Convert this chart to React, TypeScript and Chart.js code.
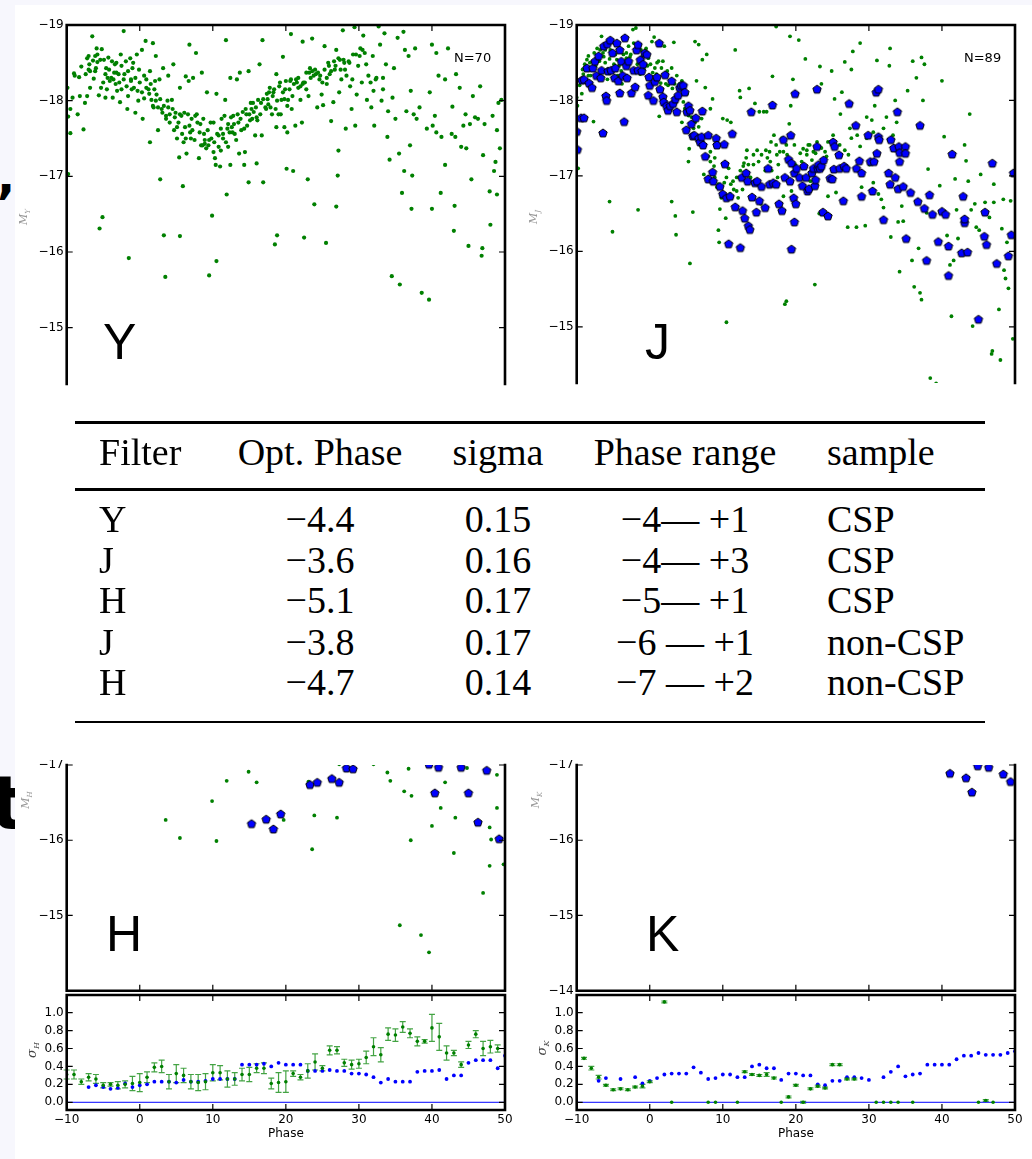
import React, { useEffect, useRef } from 'react';
import { Chart, registerables } from 'chart.js';

Chart.register(...registerables);

type Pt = [number, number];
type ErrPt = [number, number, number];

// ---------------- data ----------------
const PHASE_TICKS = [-10, 0, 10, 20, 30, 40, 50];
const MAG_TICKS_TOP = [-19, -18, -17, -16, -15];
const MAG_TICKS_H = [-17, -16, -15];
const MAG_TICKS_K = [-17, -16, -15, -14];
const MAG_FRAME_TICKS_BOTTOM = [-17, -16, -15, -14];
const SIGMA_TICKS = [0, 0.2, 0.4, 0.6, 0.8, 1.0];

const Y_GREEN: Pt[] = [
  [-9.9,-18.17],[-9.8,-17.79],[-9.8,-17.03],[-9.5,-17.57],[-9.2,-18.04],[-9.0,-18.36],[-8.5,-17.82],[-8.3,-18.31],[-8.0,-18.45],[-7.7,-17.62],[-7.5,-17.97],[-7.2,-18.06],[-7.0,-18.59],[-7.0,-18.41],[-6.8,-18.17],[-6.5,-18.85],[-6.4,-18.53],[-6.3,-18.29],[-6.1,-18.39],[-5.9,-18.69],[-5.8,-18.51],[-5.6,-18.07],[-5.5,-16.31],[-5.2,-18.68],[-5.1,-16.46],[-5.0,-18.24],[-4.7,-18.04],[-4.6,-18.43],[-4.4,-18.30],[-4.3,-18.57],[-4.1,-18.26],[-3.8,-18.52],[-3.7,-18.04],[-3.5,-18.37],[-3.3,-18.22],[-3.2,-18.50],[-2.9,-18.35],[-2.7,-17.98],[-2.6,-18.61],[-2.5,-18.15],[-2.2,-18.92],[-2.1,-18.35],[-1.9,-18.52],[-1.7,-17.89],[-1.6,-18.06],[-1.5,-15.92],[-1.3,-18.56],[-1.2,-18.26],[-1.0,-18.43],[-0.8,-18.17],[-0.6,-17.84],[-0.4,-18.61],[-0.2,-18.00],[0.0,-18.24],[0.3,-18.67],[0.4,-17.76],[0.6,-18.03],[0.8,-18.79],[0.9,-18.28],[1.2,-18.15],[1.4,-17.45],[1.4,-18.39],[1.6,-18.01],[1.8,-18.76],[1.9,-17.91],[2.1,-18.26],[2.2,-18.59],[2.3,-18.08],[2.5,-17.61],[2.7,-18.28],[2.8,-16.96],[3.0,-17.89],[3.2,-18.43],[3.3,-16.22],[3.5,-15.67],[3.6,-17.80],[3.8,-18.00],[3.9,-18.33],[4.1,-17.71],[4.4,-18.01],[4.6,-18.48],[4.7,-17.61],[4.9,-17.84],[5.1,-17.50],[5.3,-17.71],[5.4,-17.25],[5.5,-18.17],[5.5,-16.21],[5.7,-17.80],[5.9,-16.87],[6.0,-17.45],[6.2,-17.65],[6.3,-18.32],[6.4,-17.30],[6.7,-18.26],[6.8,-18.74],[6.9,-17.58],[7.1,-17.76],[7.3,-18.30],[7.5,-17.48],[7.7,-18.63],[7.8,-17.82],[8.1,-17.24],[8.3,-17.69],[8.5,-18.37],[8.6,-17.41],[8.8,-17.56],[8.9,-17.48],[9.2,-18.11],[9.4,-17.41],[9.5,-15.69],[9.7,-17.71],[9.9,-16.48],[10.1,-17.32],[10.3,-17.24],[10.4,-17.15],[10.5,-18.09],[10.5,-15.88],[10.8,-17.54],[11.0,-17.13],[11.1,-17.34],[11.2,-17.76],[11.4,-17.50],[11.7,-18.01],[11.8,-18.80],[11.9,-16.76],[12.0,-17.63],[12.1,-17.39],[12.4,-17.15],[12.4,-18.30],[12.6,-17.65],[12.8,-17.80],[13.0,-17.56],[13.3,-18.28],[13.5,-17.71],[13.6,-17.30],[13.7,-18.37],[13.9,-17.61],[14.3,-17.15],[14.4,-17.32],[14.6,-17.82],[14.9,-18.39],[14.9,-16.92],[15.1,-17.74],[15.3,-17.89],[15.5,-17.97],[15.8,-17.54],[16.0,-17.78],[16.0,-17.17],[16.2,-18.01],[16.4,-18.48],[16.7,-17.54],[16.8,-18.80],[16.9,-16.92],[17.2,-17.91],[17.4,-18.09],[17.6,-17.95],[17.8,-18.17],[18.1,-17.82],[18.3,-18.11],[18.5,-16.10],[18.7,-17.65],[18.7,-18.35],[18.8,-16.22],[19.0,-17.82],[19.2,-18.24],[19.4,-18.01],[19.6,-18.58],[19.8,-17.65],[19.9,-18.15],[20.1,-17.10],[20.2,-17.58],[20.3,-18.01],[20.6,-18.26],[20.7,-18.88],[20.8,-17.89],[21.0,-17.07],[21.3,-17.67],[21.4,-18.28],[21.7,-18.17],[22.0,-18.01],[22.2,-17.71],[22.3,-18.78],[22.4,-18.24],[22.5,-16.19],[22.8,-18.37],[23.0,-16.96],[23.1,-18.06],[23.3,-18.43],[23.6,-18.82],[23.8,-18.33],[23.9,-16.63],[24.0,-18.41],[24.3,-17.91],[24.6,-18.28],[24.9,-18.08],[25.1,-17.94],[25.3,-18.72],[25.5,-16.12],[25.6,-18.22],[25.8,-18.50],[26.0,-18.35],[26.2,-17.73],[26.5,-17.98],[26.7,-18.41],[26.9,-18.67],[26.9,-16.60],[27.1,-17.01],[27.2,-17.34],[27.3,-18.11],[27.4,-18.54],[27.6,-18.28],[27.8,-18.93],[28.0,-18.50],[28.2,-17.63],[28.6,-18.52],[28.8,-18.19],[29.0,-17.89],[29.2,-18.61],[29.4,-18.97],[29.5,-17.67],[29.7,-18.08],[29.9,-18.46],[30.2,-18.69],[30.4,-18.24],[30.6,-18.86],[30.8,-18.63],[31.1,-18.01],[31.3,-18.33],[31.7,-17.91],[31.9,-18.59],[32.1,-17.67],[32.3,-18.28],[32.7,-18.98],[32.9,-18.74],[33.1,-18.00],[33.3,-18.30],[33.5,-18.89],[33.7,-18.48],[33.9,-17.52],[34.0,-17.86],[34.2,-17.22],[34.5,-15.68],[34.6,-18.04],[34.8,-18.43],[35.0,-17.76],[35.3,-18.83],[35.5,-17.30],[35.6,-15.57],[35.9,-16.78],[36.1,-18.91],[36.2,-17.07],[36.3,-18.67],[36.5,-17.86],[36.8,-18.59],[37.0,-17.41],[37.1,-18.13],[37.2,-16.57],[37.3,-17.01],[37.5,-17.82],[37.7,-18.69],[37.9,-17.76],[38.3,-17.91],[38.6,-15.46],[39.3,-17.63],[39.6,-15.37],[39.7,-18.11],[40.0,-18.74],[40.1,-17.67],[40.0,-16.57],[40.4,-17.80],[40.6,-18.63],[40.6,-17.58],[40.9,-18.33],[41.2,-16.78],[41.3,-17.52],[41.8,-17.15],[41.8,-18.28],[42.2,-18.69],[42.7,-17.56],[42.8,-17.92],[43.0,-16.28],[43.1,-16.61],[43.2,-17.52],[43.3,-18.35],[43.8,-18.17],[44.0,-17.39],[44.3,-17.67],[44.6,-17.82],[44.7,-17.37],[45.0,-16.08],[45.2,-17.69],[45.4,-16.96],[45.6,-18.06],[45.9,-17.78],[46.3,-17.76],[46.6,-18.19],[46.8,-15.95],[46.9,-16.05],[47.0,-17.28],[47.2,-17.69],[47.9,-16.80],[48.0,-16.36],[48.3,-17.80],[48.5,-17.07],[48.7,-17.19],[48.9,-16.76],[48.9,-17.61],[49.1,-17.97],[49.3,-17.37],[49.5,-18.01],
  [-9.5,-17.89],[-8.9,-18.33],[-8.2,-18.06],[-7.4,-18.35],[-6.8,-18.39],[-7.2,-18.56],[-6.9,-18.48],[-6.1,-18.59],[-6.0,-18.43],[-5.8,-18.61],[-5.4,-18.54],[-5.3,-18.17],[-4.9,-18.54],[-4.7,-18.35],[-4.5,-18.15],[-4.2,-18.41],[-3.9,-18.30],[-3.6,-18.28],[-3.4,-18.48],[-3.2,-18.37],[-3.1,-18.13],[-2.8,-18.24],[-2.5,-18.46],[-2.2,-18.28],[-1.8,-18.19],[-1.6,-18.39],[-1.2,-18.28],[-1.1,-18.15],[-0.9,-18.50],[-0.6,-18.30],[-0.3,-18.13],[-0.1,-18.41],[0.3,-18.11],[0.6,-18.33],[0.9,-18.17],[1.3,-18.09],[1.5,-18.22],[1.8,-17.93],[2.0,-18.15],[2.2,-18.00],[2.5,-17.91],[2.8,-18.02],[3.1,-17.84],[3.3,-17.93],[3.6,-17.76],[3.9,-17.91],[4.1,-17.82],[4.5,-17.89],[4.8,-17.78],[5.1,-17.65],[5.5,-17.82],[5.8,-17.56],[6.1,-17.84],[6.3,-17.50],[6.6,-17.82],[6.8,-17.67],[7.0,-17.50],[7.2,-17.61],[7.6,-17.80],[7.9,-17.71],[8.2,-17.58],[8.4,-17.41],[8.7,-17.76],[8.9,-17.43],[9.1,-17.37],[9.3,-17.61],[9.5,-17.48],[9.8,-17.50],[10.1,-17.71],[10.2,-17.45],[10.6,-17.56],[10.8,-17.39],[11.1,-17.63],[11.4,-17.56],[11.6,-17.80],[11.8,-17.45],[12.1,-17.69],[12.3,-17.58],[12.5,-17.78],[12.7,-17.58],[12.9,-17.69],[13.2,-17.48],[13.4,-17.82],[13.8,-17.76],[14.1,-17.85],[14.3,-17.63],[14.5,-17.89],[14.7,-17.67],[15.0,-17.82],[15.2,-17.97],[15.4,-17.76],[15.6,-17.85],[15.9,-17.91],[16.1,-17.74],[16.5,-17.82],[16.6,-17.97],[16.9,-18.02],[17.3,-17.89],[17.5,-18.02],[17.7,-18.11],[17.9,-17.91],[18.2,-18.06],[18.4,-18.15],[18.6,-17.89],[18.8,-18.00],[19.1,-18.19],[19.3,-17.82],[19.6,-18.11],[19.8,-18.02],[20.0,-18.26],[20.2,-17.93],[20.5,-18.15],[20.7,-18.28],[20.9,-18.06],[21.1,-18.22],[21.5,-18.24],[21.7,-18.30],[22.0,-18.19],[22.3,-18.22],[22.6,-18.24],[22.8,-18.15],[23.2,-18.37],[23.4,-18.30],[23.6,-18.39],[24.1,-18.35],[24.4,-18.37],[24.7,-18.33],[25.0,-18.24],[25.3,-18.41],[25.6,-18.30],[25.9,-18.46],[26.2,-18.39],[26.6,-18.52],[26.8,-18.46],[27.2,-18.56],[27.5,-18.41],[27.9,-18.54],[28.1,-18.41],[28.3,-18.33],[28.7,-18.50],[29.1,-18.28],[29.6,-18.61],[30.1,-18.59],[30.5,-18.67],[31.0,-18.48],[31.6,-18.24],[32.0,-18.13],[32.4,-18.30],[33.3,-18.15],
];

const J_GREEN: Pt[] = [
  [-10.0,-18.04],[-9.9,-17.93],[-9.8,-17.10],[-9.6,-18.20],[-9.3,-18.09],[-9.1,-18.35],[-8.9,-18.48],[-8.6,-18.54],[-8.4,-18.33],[-8.2,-18.50],[-7.7,-17.72],[-7.6,-18.63],[-7.2,-18.69],[-6.8,-18.67],[-6.6,-18.85],[-6.3,-18.58],[-6.1,-18.50],[-5.8,-18.28],[-5.5,-16.66],[-5.4,-18.67],[-5.2,-18.39],[-5.1,-16.26],[-4.9,-18.48],[-4.5,-18.54],[-4.2,-18.25],[-3.9,-18.39],[-3.6,-18.61],[-3.2,-18.63],[-2.9,-18.72],[-2.7,-18.58],[-2.3,-18.94],[-2.2,-18.76],[-1.9,-18.96],[-1.7,-18.48],[-1.6,-16.55],[-1.3,-18.35],[-1.0,-18.59],[-0.5,-18.69],[-0.3,-18.46],[0.1,-18.48],[0.3,-18.78],[0.6,-18.84],[0.9,-18.35],[1.0,-18.50],[1.2,-18.52],[1.3,-17.79],[1.5,-18.23],[1.8,-18.52],[2.0,-18.72],[2.2,-18.22],[2.4,-18.39],[2.8,-18.26],[3.0,-16.66],[3.1,-18.16],[3.3,-18.77],[3.5,-16.47],[3.6,-16.22],[3.7,-18.33],[4.1,-18.22],[4.4,-17.71],[4.6,-17.98],[4.8,-18.20],[5.1,-18.09],[5.3,-17.19],[5.4,-17.36],[5.5,-15.84],[5.6,-17.69],[5.9,-16.52],[6.0,-17.63],[6.2,-18.78],[6.4,-18.26],[6.7,-18.74],[6.9,-17.50],[7.1,-17.76],[7.2,-18.54],[7.4,-17.02],[7.6,-18.17],[7.8,-18.61],[8.0,-17.26],[8.3,-17.89],[8.3,-17.32],[8.6,-18.02],[8.8,-17.13],[8.9,-17.24],[9.2,-16.85],[9.4,-16.28],[9.5,-16.12],[9.6,-16.56],[9.8,-16.71],[10.0,-17.76],[10.2,-16.91],[10.4,-16.44],[10.5,-15.06],[10.6,-17.74],[10.8,-17.10],[11.0,-16.76],[11.1,-17.71],[11.4,-16.93],[11.7,-18.67],[11.9,-16.80],[12.1,-16.71],[12.3,-18.13],[12.4,-18.04],[12.7,-16.82],[12.9,-17.17],[13.2,-17.24],[13.3,-17.34],[13.6,-18.16],[13.8,-16.98],[14.2,-17.15],[14.4,-17.96],[14.7,-17.34],[15.0,-17.85],[15.2,-16.63],[15.6,-17.85],[15.8,-17.07],[16.0,-17.85],[16.1,-17.24],[16.4,-17.32],[16.6,-17.45],[16.7,-17.07],[16.8,-18.32],[17.0,-17.54],[17.3,-17.41],[17.3,-18.98],[17.5,-16.98],[17.6,-17.15],[17.8,-17.32],[18.1,-17.50],[18.3,-16.73],[18.5,-15.30],[18.7,-15.34],[18.8,-17.28],[19.1,-17.69],[19.2,-18.85],[19.3,-17.93],[19.4,-16.80],[19.6,-18.28],[19.8,-17.41],[19.9,-17.15],[20.1,-17.07],[20.4,-18.80],[20.6,-17.30],[20.8,-17.19],[21.0,-17.36],[21.3,-18.55],[21.5,-17.28],[21.7,-17.41],[22.0,-16.93],[22.2,-17.21],[22.4,-17.32],[22.6,-15.56],[22.7,-17.30],[22.9,-17.45],[23.2,-16.50],[23.3,-18.45],[23.5,-18.22],[24.0,-17.32],[24.2,-17.26],[24.4,-16.73],[24.9,-18.39],[25.1,-17.54],[25.3,-18.02],[25.5,-16.78],[25.8,-17.28],[26.1,-17.82],[26.3,-18.11],[26.7,-18.51],[27.1,-16.32],[27.2,-17.28],[27.4,-17.63],[27.6,-18.41],[27.8,-18.65],[28.1,-17.10],[28.3,-16.32],[28.4,-17.54],[28.8,-18.76],[29.0,-16.85],[29.5,-16.34],[29.7,-17.78],[30.1,-17.15],[30.4,-17.74],[30.6,-16.91],[30.8,-17.93],[31.1,-18.53],[31.3,-16.76],[31.7,-16.69],[32.0,-16.58],[32.4,-17.78],[32.8,-18.46],[32.9,-18.69],[33.0,-16.19],[33.3,-17.54],[33.6,-18.00],[33.8,-17.71],[34.0,-16.39],[34.2,-15.73],[34.5,-16.60],[34.7,-16.40],[35.3,-18.13],[35.9,-15.88],[36.0,-18.52],[36.2,-15.53],[36.5,-18.30],[36.8,-16.04],[37.0,-15.45],[37.2,-15.36],[37.2,-18.57],[37.4,-18.00],[37.6,-18.48],[37.9,-16.51],[38.1,-17.09],[38.4,-14.32],[39.2,-14.25],[39.7,-16.87],[40.0,-18.26],[40.3,-17.52],[40.7,-16.21],[41.1,-15.82],[41.3,-15.14],[41.6,-15.88],[41.8,-16.96],[42.0,-16.55],[42.2,-16.17],[43.1,-17.41],[43.3,-17.20],[43.6,-16.93],[43.8,-17.82],[44.0,-16.55],[44.2,-15.01],[44.5,-16.63],[44.7,-16.32],[45.1,-16.28],[45.3,-17.02],[45.9,-16.65],[46.5,-16.45],[46.8,-14.64],[46.9,-14.68],[47.1,-16.89],[47.1,-16.65],[47.8,-15.23],[48.0,-14.56],[48.2,-16.30],[48.4,-16.69],[48.5,-15.75],[48.7,-15.64],[48.9,-16.12],[49.1,-15.51],[49.4,-16.67],[49.7,-14.84],
  [-9.2,-18.41],[-8.7,-18.24],[-8.4,-18.59],[-8.1,-18.33],[-7.4,-18.46],[-6.9,-18.52],[-6.4,-18.63],[-6.1,-18.67],[-5.8,-18.41],[-5.5,-18.55],[-5.1,-18.30],[-4.7,-18.61],[-4.4,-18.33],[-4.2,-18.46],[-3.8,-18.22],[-3.2,-18.56],[-2.6,-18.61],[-2.0,-18.65],[-1.2,-18.67],[-0.8,-18.41],[-0.2,-18.56],[0.4,-18.37],[0.7,-18.43],[1.6,-18.43],[2.1,-18.35],[2.5,-18.20],[3.0,-18.43],[3.4,-18.22],[3.9,-18.15],[4.4,-18.26],[4.8,-17.89],[5.3,-17.80],[5.7,-17.78],[6.2,-17.71],[6.7,-17.65],[7.1,-17.41],[7.7,-17.24],[8.3,-17.19],[8.9,-16.98],[9.4,-16.89],[10.1,-17.15],[10.5,-16.98],[11.1,-16.89],[11.5,-16.82],[11.9,-16.98],[12.4,-17.07],[12.8,-17.13],[13.5,-17.15],[14.2,-17.28],[14.9,-17.19],[15.3,-17.28],[15.9,-17.34],[16.5,-17.19],[17.4,-17.28],[18.3,-17.32],[18.7,-17.41],[21.5,-17.34],[21.9,-17.41],[23.5,-17.37],[24.4,-17.45],[26.0,-17.41],[26.7,-17.34],[27.6,-17.50],[28.8,-17.39],[29.7,-17.50],[30.6,-17.58],[32.0,-17.63],[32.7,-17.48],
];

const J_BLUE: Pt[] = [
  [-10.0,-17.59],[-9.9,-17.35],[-9.4,-17.77],[-9.0,-17.77],[-9.3,-18.27],[-9.0,-18.28],[-8.6,-18.43],[-8.3,-18.23],[-7.9,-18.17],[-7.8,-18.43],[-7.5,-18.52],[-7.3,-18.33],[-7.0,-18.59],[-6.7,-18.30],[-6.6,-18.40],[-6.4,-17.57],[-6.3,-18.72],[-6.0,-18.06],[-5.9,-18.00],[-5.8,-18.75],[-5.7,-18.39],[-5.4,-18.80],[-5.3,-18.40],[-5.1,-18.63],[-4.8,-18.30],[-4.7,-18.43],[-4.5,-18.76],[-4.3,-18.26],[-4.1,-18.10],[-4.1,-18.67],[-3.9,-18.52],[-3.7,-18.33],[-3.5,-17.72],[-3.4,-18.83],[-3.2,-18.46],[-3.1,-18.30],[-2.9,-18.52],[-2.5,-18.10],[-2.2,-18.40],[-2.0,-18.18],[-1.8,-18.67],[-1.6,-18.74],[-1.6,-18.40],[-1.3,-18.54],[-1.1,-18.39],[-0.9,-18.48],[-0.7,-18.63],[-0.4,-18.61],[-0.2,-18.07],[-0.1,-18.31],[0.0,-18.20],[0.5,-18.00],[0.7,-18.25],[1.0,-18.31],[1.3,-18.76],[1.4,-18.15],[1.8,-18.05],[1.9,-17.98],[2.1,-18.34],[2.3,-17.93],[2.5,-17.87],[2.8,-17.93],[3.0,-18.26],[3.2,-17.96],[3.5,-18.02],[3.7,-17.85],[3.9,-18.07],[4.1,-18.17],[4.3,-18.20],[4.6,-18.20],[4.8,-18.11],[5.0,-17.61],[5.1,-17.85],[5.3,-17.93],[5.5,-17.87],[5.7,-17.69],[5.9,-17.53],[6.1,-17.54],[6.3,-17.77],[6.7,-17.50],[6.9,-17.45],[7.1,-17.52],[7.2,-17.86],[7.3,-17.41],[7.6,-17.26],[8.0,-17.54],[8.0,-16.96],[8.6,-17.05],[8.7,-16.93],[9.1,-17.50],[9.2,-17.41],[9.6,-16.86],[10.0,-16.76],[10.2,-17.42],[10.3,-17.16],[10.5,-16.71],[10.8,-16.10],[11.0,-16.73],[11.3,-17.56],[11.7,-16.59],[12.4,-16.05],[12.6,-16.98],[12.7,-16.54],[13.0,-16.44],[13.2,-17.04],[13.4,-16.93],[13.5,-16.34],[13.7,-16.29],[13.9,-17.85],[14.0,-16.72],[14.4,-16.91],[14.6,-16.52],[14.7,-16.93],[15.0,-16.67],[15.3,-16.86],[15.8,-16.58],[16.2,-17.10],[16.4,-16.89],[16.8,-17.94],[16.9,-16.91],[17.3,-16.89],[17.7,-16.63],[18.1,-16.54],[18.3,-17.48],[18.5,-16.98],[19.0,-17.22],[19.2,-16.93],[19.3,-17.54],[19.4,-16.03],[19.4,-17.17],[19.7,-16.71],[19.8,-17.04],[19.8,-16.39],[19.9,-18.09],[20.0,-16.63],[20.1,-17.10],[20.5,-16.98],[20.9,-16.87],[21.1,-17.13],[21.4,-16.98],[21.6,-16.80],[21.8,-16.83],[22.2,-17.04],[22.4,-17.10],[22.6,-16.87],[22.7,-16.95],[22.9,-18.15],[22.9,-17.39],[23.0,-17.10],[23.1,-17.15],[23.3,-17.10],[23.5,-17.13],[23.7,-16.52],[23.8,-17.21],[24.4,-16.47],[24.7,-16.97],[25.0,-16.96],[25.1,-17.45],[25.2,-17.09],[25.3,-17.39],[25.9,-17.28],[26.0,-17.10],[26.5,-16.67],[26.6,-17.13],[26.9,-17.10],[27.3,-17.96],[28.2,-17.67],[28.3,-17.10],[28.7,-17.20],[29.0,-16.73],[29.0,-17.04],[29.9,-17.54],[30.2,-17.19],[30.5,-16.80],[30.7,-17.19],[31.0,-18.11],[31.1,-17.30],[31.3,-18.15],[31.3,-17.52],[31.4,-17.48],[32.0,-16.42],[32.7,-17.04],[32.9,-16.89],[33.0,-17.48],[33.4,-17.37],[33.6,-16.98],[33.9,-17.85],[34.0,-16.83],[34.1,-17.39],[34.2,-17.31],[34.2,-17.19],[34.7,-16.86],[35.0,-17.39],[35.0,-17.30],[35.1,-16.17],[35.7,-16.78],[36.7,-16.66],[37.0,-17.67],[37.6,-16.57],[37.9,-15.88],[38.3,-16.75],[38.7,-16.49],[39.5,-16.13],[40.0,-16.53],[40.5,-16.49],[40.9,-16.07],[40.9,-15.68],[41.4,-17.29],[42.7,-15.98],[42.9,-16.73],[43.1,-16.38],[43.1,-16.43],[43.5,-15.99],[45.0,-15.10],[45.8,-16.20],[45.9,-16.52],[46.1,-16.09],[46.9,-17.17],[47.5,-15.84],[49.1,-15.94],[49.5,-16.22],[49.8,-17.04],
];

const H_GREEN: Pt[] = [
  [3.55,-16.27],[5.5,-16.03],[9.9,-16.52],[10.5,-15.99],[11.9,-16.79],[14.9,-16.91],[16.0,-16.77],[19.7,-16.27],[23.1,-16.78],[23.6,-15.88],[23.9,-16.33],[27.0,-16.30],[27.3,-17.01],[32.0,-17.01],[33.9,-16.90],[34.3,-16.79],[35.6,-14.87],[36.2,-16.65],[36.8,-16.95],[37.1,-16.00],[37.2,-16.59],[38.5,-14.74],[39.6,-14.51],[40.0,-16.19],[41.2,-16.43],[41.8,-16.77],[43.0,-15.83],[43.2,-16.30],[44.8,-16.96],[47.0,-15.30],[47.9,-16.17],[47.9,-15.66],[48.1,-16.01],[48.9,-16.87],[48.9,-16.43],[49.8,-15.68],
];

const H_BLUE: Pt[] = [
  [15.3,-16.22],[17.3,-16.28],[18.3,-16.15],[19.3,-16.35],[23.3,-16.74],[24.3,-16.77],[26.3,-16.82],[27.3,-16.77],[28.3,-16.96],[29.2,-16.95],[39.6,-17.01],[40.9,-16.97],[40.4,-16.63],[44.0,-16.97],[45.0,-16.63],[46.3,-16.24],[47.5,-16.93],[49.2,-16.02],
];

const K_BLUE: Pt[] = [
  [41.1,-16.89],[43.3,-16.83],[44.1,-16.64],[44.9,-16.99],[46.4,-16.97],[48.4,-16.88],[49.4,-16.78],
];

// phase, sigma, error
const SIG_H_GREEN: ErrPt[] = [
  [-10,0.31,0.05],[-9,0.31,0.05],[-8,0.23,0.03],[-7,0.28,0.04],[-6,0.26,0.05],[-5,0.19,0.03],[-4,0.20,0.02],[-3,0.19,0.04],[-2,0.20,0.04],[-1,0.21,0.08],[0,0.22,0.10],[1,0.28,0.06],[2,0.39,0.05],[3,0.40,0.07],[4,0.23,0.08],[5,0.32,0.10],[6,0.30,0.08],[7,0.23,0.08],[8,0.22,0.09],[9,0.23,0.09],[10,0.33,0.09],[11,0.33,0.08],[12,0.26,0.09],[13,0.26,0.07],[14,0.31,0.07],[15,0.31,0.08],[16,0.38,0.05],[17,0.38,0.06],[18,0.21,0.06],[19,0.22,0.11],[20,0.23,0.12],[21,0.32,0.03],[22,0.28,0.03],[23,0.35,0.08],[24,0.45,0.09],[25,0.38,0.03],[26,0.58,0.05],[27,0.58,0.04],[28,0.44,0.04],[29,0.42,0.05],[30,0.43,0.05],[31,0.50,0.07],[32,0.62,0.10],[33,0.53,0.08],[34,0.76,0.07],[35,0.75,0.07],[36,0.84,0.06],[37,0.77,0.05],[38,0.68,0.05],[39,0.68,0.02],[40,0.83,0.15],[41,0.73,0.15],[42,0.55,0.08],[43,0.55,0.03],[44,0.42,0.03],[45,0.64,0.04],[46,0.76,0.04],[47,0.60,0.08],[48,0.62,0.07],[49,0.60,0.04],
];

const SIG_H_BLUE: Pt[] = [
  [-7,0.17],[-6,0.19],[-5,0.17],[-4,0.15],[-3,0.16],[-2,0.21],[-1,0.17],[0,0.19],[1,0.20],[2,0.23],[3,0.23],[4,0.23],[5,0.22],[6,0.25],[7,0.23],[8,0.23],[9,0.24],[10,0.26],[11,0.26],[12,0.26],[13,0.26],[14,0.42],[15,0.42],[16,0.42],[17,0.43],[18,0.40],[19,0.44],[20,0.42],[21,0.42],[22,0.42],[23,0.35],[24,0.35],[25,0.35],[26,0.36],[27,0.35],[28,0.35],[29,0.32],[30,0.32],[31,0.31],[32,0.28],[33,0.22],[34,0.26],[35,0.23],[36,0.23],[37,0.23],[38,0.34],[39,0.35],[40,0.35],[41,0.36],[42,0.26],[43,0.30],[44,0.30],[45,0.44],[46,0.47],[47,0.47],[48,0.47],[49,0.38],[50,0.52],
];

const SIG_K_GREEN: ErrPt[] = [
  [-9,0.49,0.01],[-8,0.38,0.02],[-7,0.28,0.02],[-6,0.19,0.01],[-5,0.14,0.01],[-4,0.15,0.01],[-3,0.14,0.01],[-2,0.17,0.01],[-1,0.18,0.02],[0,0.23,0.01],[2,1.12,0.01],[3,0.0,0],[8,0.0,0],[9,0.0,0],[12,0.0,0],[13,0.34,0.01],[14,0.31,0.01],[15,0.30,0.01],[16,0.31,0.02],[17,0.27,0.01],[18,0.0,0],[19,0.06,0.01],[20,0.19,0.01],[21,0.0,0.01],[22,0.15,0.01],[23,0.18,0.01],[24,0.16,0.01],[25,0.42,0.01],[26,0.42,0.01],[27,0.26,0.01],[28,0.26,0.01],[31,0.0,0],[32,0.0,0],[33,0.0,0],[34,0.0,0],[36,0.0,0],[45,0.0,0],[46,0.02,0.01],[47,0.0,0],
];

const SIG_K_BLUE: Pt[] = [
  [-7,0.24],[-6,0.27],[-4,0.26],[-2,0.28],[-1,0.21],[0,0.24],[1,0.27],[2,0.31],[3,0.32],[4,0.32],[5,0.32],[6,0.39],[7,0.33],[8,0.26],[9,0.27],[10,0.31],[11,0.31],[12,0.28],[13,0.28],[14,0.40],[15,0.42],[16,0.38],[17,0.38],[18,0.25],[19,0.32],[20,0.32],[21,0.30],[22,0.30],[23,0.20],[24,0.19],[25,0.24],[26,0.24],[27,0.28],[28,0.28],[29,0.27],[30,0.25],[32,0.28],[33,0.34],[34,0.40],[35,0.29],[36,0.31],[37,0.32],[38,0.42],[39,0.42],[40,0.42],[41,0.42],[42,0.48],[43,0.52],[44,0.52],[45,0.55],[46,0.53],[47,0.53],[48,0.53],[49,0.55],[50,0.57],
];

const ZERO_LINE: Pt[] = [[-10, 0], [50, 0]];

const TABLE_HEAD = ['Filter', 'Opt. Phase', 'sigma', 'Phase range', 'sample'];
const TABLE_FILTER = ['Y', 'J', 'H', 'J', 'H'];
const TABLE_OPT = ['\u22124.4', '\u22123.6', '\u22125.1', '\u22123.8', '\u22124.7'];
const TABLE_SIGMA = ['0.15', '0.16', '0.17', '0.17', '0.14'];
const TABLE_RANGE = ['\u22124\u2014 +1', '\u22124\u2014 +3', '\u22125\u2014 +1', '\u22126 \u2014 +1', '\u22127 \u2014 +2'];
const TABLE_SAMPLE = ['CSP', 'CSP', 'CSP', 'non-CSP', 'non-CSP'];

// ---------------- helpers ----------------
const GREEN = '#008000';
const BLUE = '#0000ff';
const TICK_FONT = { family: 'DejaVu Sans', size: 12 };

const toXY = (a: Pt[]) => a.map(([x, y]) => ({ x, y }));
const fmtSigned = (v: number) => (v < 0 ? '\u2212' + Math.abs(v) : String(v));
const fmtSigma = (v: number) => v.toFixed(1);

let pentCache: HTMLCanvasElement | null = null;
function pentagon(): HTMLCanvasElement {
  if (pentCache) return pentCache;
  const c = document.createElement('canvas');
  const s = 12;
  c.width = s;
  c.height = s;
  const g = c.getContext('2d')!;
  const r = 4.4;
  const cx = s / 2;
  const cy = s / 2 + 0.4;
  g.beginPath();
  for (let i = 0; i < 5; i++) {
    const a = -Math.PI / 2 + (i * 2 * Math.PI) / 5;
    const px = cx + r * Math.cos(a);
    const py = cy + r * Math.sin(a);
    if (i === 0) g.moveTo(px, py);
    else g.lineTo(px, py);
  }
  g.closePath();
  g.fillStyle = BLUE;
  g.fill();
  g.lineWidth = 1;
  g.strokeStyle = '#000';
  g.stroke();
  pentCache = c;
  return c;
}

interface Sides { top: boolean; bottom: boolean; left: boolean; right: boolean }

function framePlugin(sides: Sides, xt: number[], yt: number[]) {
  return {
    id: 'frame',
    afterDatasetsDraw(chart: any) {
      const { ctx, chartArea: a, scales } = chart;
      const xs = scales.x;
      const ys = scales.y;
      const L = 6;
      ctx.save();
      ctx.strokeStyle = '#000';
      ctx.lineWidth = 1.2;
      ctx.beginPath();
      for (const v of xt) {
        const px = xs.getPixelForValue(v);
        if (sides.top) { ctx.moveTo(px, a.top); ctx.lineTo(px, a.top + L); }
        if (sides.bottom) { ctx.moveTo(px, a.bottom); ctx.lineTo(px, a.bottom - L); }
      }
      for (const v of yt) {
        const py = ys.getPixelForValue(v);
        if (sides.left) { ctx.moveTo(a.left, py); ctx.lineTo(a.left + L, py); }
        if (sides.right) { ctx.moveTo(a.right, py); ctx.lineTo(a.right - L, py); }
      }
      ctx.stroke();
      ctx.lineWidth = 2.6;
      ctx.lineCap = 'square';
      ctx.beginPath();
      if (sides.top) { ctx.moveTo(a.left, a.top); ctx.lineTo(a.right, a.top); }
      if (sides.bottom) { ctx.moveTo(a.left, a.bottom); ctx.lineTo(a.right, a.bottom); }
      if (sides.left) { ctx.moveTo(a.left, a.top); ctx.lineTo(a.left, a.bottom); }
      if (sides.right) { ctx.moveTo(a.right, a.top); ctx.lineTo(a.right, a.bottom); }
      ctx.stroke();
      ctx.restore();
    },
  };
}

function errPlugin(data: ErrPt[]) {
  return {
    id: 'errbars',
    beforeDatasetsDraw(chart: any) {
      const { ctx, scales } = chart;
      const xs = scales.x;
      const ys = scales.y;
      ctx.save();
      ctx.strokeStyle = 'rgba(20,140,20,0.8)';
      ctx.lineWidth = 1.2;
      ctx.beginPath();
      for (const [p, s, e] of data) {
        if (e <= 0) continue;
        const x = xs.getPixelForValue(p);
        const y1 = ys.getPixelForValue(s - e);
        const y2 = ys.getPixelForValue(s + e);
        ctx.moveTo(x, y1); ctx.lineTo(x, y2);
        ctx.moveTo(x - 3, y1); ctx.lineTo(x + 3, y1);
        ctx.moveTo(x - 3, y2); ctx.lineTo(x + 3, y2);
      }
      ctx.stroke();
      ctx.restore();
    },
  };
}

interface Spec {
  left: number; top: number; width: number; height: number;
  pad: { left: number; right: number; top: number; bottom: number };
  yMin: number; yMax: number; reverse: boolean;
  yTicks: number[]; frameYTicks: number[];
  yFmt: (v: number) => string;
  showX: boolean; xAxisHeight?: number;
  sides: Sides;
  datasets: any[];
  errors?: ErrPt[];
}

function buildConfig(spec: Spec): any {
  const plugins: any[] = [framePlugin(spec.sides, PHASE_TICKS, spec.frameYTicks)];
  if (spec.errors) plugins.push(errPlugin(spec.errors));
  const xScale: any = {
    type: 'linear', min: -10, max: 50, display: spec.showX,
    afterBuildTicks: (s: any) => { s.ticks = PHASE_TICKS.map((v) => ({ value: v })); },
    grid: { display: false, drawTicks: false },
    border: { display: false },
    ticks: { color: '#000', font: TICK_FONT, padding: 3, maxRotation: 0, minRotation: 0, autoSkip: false, callback: (v: any) => fmtSigned(Number(v)) },
  };
  if (spec.showX) {
    xScale.afterFit = (s: any) => { s.height = spec.xAxisHeight; s.paddingLeft = 0; s.paddingRight = 0; };
    xScale.title = { display: true, text: 'Phase', color: '#000', font: TICK_FONT, padding: { top: 0, bottom: 18 } };
  }
  return {
    type: 'scatter',
    data: { datasets: spec.datasets },
    options: {
      responsive: false,
      animation: false,
      devicePixelRatio: 1,
      events: [],
      layout: { padding: spec.pad },
      plugins: { legend: { display: false }, tooltip: { enabled: false }, title: { display: false } },
      scales: {
        x: xScale,
        y: {
          type: 'linear', min: spec.yMin, max: spec.yMax, reverse: spec.reverse,
          afterBuildTicks: (s: any) => { s.ticks = spec.yTicks.map((v) => ({ value: v })); },
          afterFit: (s: any) => { s.width = 51.7; s.paddingTop = 0; s.paddingBottom = 0; },
          grid: { display: false, drawTicks: false },
          border: { display: false },
          ticks: { color: '#000', font: TICK_FONT, padding: 3, autoSkip: false, callback: (v: any) => spec.yFmt(Number(v)) },
        },
      },
    },
    plugins,
  };
}

function ChartCanvas({ spec }: { spec: Spec }) {
  const ref = useRef<HTMLCanvasElement>(null);
  useEffect(() => {
    const chart = new Chart(ref.current as HTMLCanvasElement, buildConfig(spec));
    return () => chart.destroy();
  }, []);
  return (
    <canvas
      ref={ref}
      width={spec.width}
      height={spec.height}
      style={{ position: 'absolute', left: spec.left, top: spec.top, width: spec.width, height: spec.height }}
    />
  );
}

const greenSet = (d: Pt[], r = 1.8) => ({
  data: toXY(d), pointRadius: r, pointBackgroundColor: GREEN, pointBorderWidth: 0, pointStyle: 'circle', order: 1,
});
const blueSet = (d: Pt[]) => ({
  data: toXY(d), pointRadius: 4, pointStyle: pentagon(), order: 0,
});
const zeroSet = () => ({
  data: toXY(ZERO_LINE), showLine: true, borderColor: BLUE, borderWidth: 1, pointRadius: 0, order: 5,
});

const TOP_PAD = { left: 0, right: 10, top: 20, bottom: 0 };
const MID_PAD = { left: 0, right: 10, top: 1.7, bottom: 10.3 };
const SIG_PAD = { left: 0, right: 10, top: 0, bottom: 0 };

function Label({ x, y, children, size, color, font }: any) {
  return (
    <div style={{
      position: 'absolute', left: x, top: y, transform: 'translate(-50%,-50%) rotate(-90deg)',
      fontFamily: font || 'DejaVu Serif', fontStyle: 'italic', fontSize: size, color, whiteSpace: 'nowrap', lineHeight: 1,
    }}>{children}</div>
  );
}

function TText({ x, baseline, align, text }: { x: number; baseline: number; align: 'left' | 'center'; text: string }) {
  const fs = 38;
  return (
    <div style={{
      position: 'absolute', left: x, top: baseline - 0.8375 * fs,
      transform: align === 'center' ? 'translateX(-50%)' : undefined,
      fontFamily: 'Liberation Serif', fontSize: fs, lineHeight: fs + 'px', color: '#000', whiteSpace: 'nowrap',
    }}>{text}</div>
  );
}

function BigLetter({ x, baseline, text }: { x: number; baseline: number; text: string }) {
  const fs = 50;
  return (
    <div style={{ position: 'absolute', left: x, top: baseline - 0.8465 * fs, fontFamily: 'Liberation Sans', fontSize: fs, lineHeight: fs + 'px', color: '#000' }}>{text}</div>
  );
}

export default function App() {
  const specs: Spec[] = [
    {
      left: 15, top: 5, width: 500, height: 383, pad: TOP_PAD, yMin: -19, yMax: -14.255, reverse: true,
      yTicks: MAG_TICKS_TOP, frameYTicks: MAG_TICKS_TOP, yFmt: fmtSigned, showX: false,
      sides: { top: true, bottom: false, left: true, right: true },
      datasets: [greenSet(Y_GREEN, 2.1)],
    },
    {
      left: 525, top: 5, width: 500, height: 383, pad: TOP_PAD, yMin: -19, yMax: -14.255, reverse: true,
      yTicks: MAG_TICKS_TOP, frameYTicks: MAG_TICKS_TOP, yFmt: fmtSigned, showX: false,
      sides: { top: true, bottom: false, left: true, right: true },
      datasets: [blueSet(J_BLUE), greenSet(J_GREEN, 1.9)],
    },
    {
      left: 15, top: 760, width: 500, height: 241, pad: MID_PAD, yMin: -17, yMax: -14, reverse: true,
      yTicks: MAG_TICKS_H, frameYTicks: MAG_FRAME_TICKS_BOTTOM, yFmt: fmtSigned, showX: false,
      sides: { top: false, bottom: true, left: true, right: true },
      datasets: [blueSet(H_BLUE), greenSet(H_GREEN, 1.9)],
    },
    {
      left: 525, top: 760, width: 500, height: 241, pad: MID_PAD, yMin: -17, yMax: -14, reverse: true,
      yTicks: MAG_TICKS_K, frameYTicks: MAG_FRAME_TICKS_BOTTOM, yFmt: fmtSigned, showX: false,
      sides: { top: false, bottom: true, left: true, right: true },
      datasets: [blueSet(K_BLUE)],
    },
    {
      left: 15, top: 991, width: 500, height: 168, pad: SIG_PAD, yMin: -0.086, yMax: 1.197, reverse: false,
      yTicks: SIGMA_TICKS, frameYTicks: SIGMA_TICKS, yFmt: fmtSigma, showX: true, xAxisHeight: 49,
      sides: { top: true, bottom: true, left: true, right: true },
      datasets: [
        { ...greenSet(SIG_H_GREEN.map(([p, s]) => [p, s] as Pt), 1.8), order: 0 },
        { data: toXY(SIG_H_BLUE), pointRadius: 1.9, pointBackgroundColor: BLUE, pointBorderWidth: 0, order: 1 },
        zeroSet(),
      ],
      errors: SIG_H_GREEN,
    },
    {
      left: 525, top: 991, width: 500, height: 168, pad: SIG_PAD, yMin: -0.086, yMax: 1.197, reverse: false,
      yTicks: SIGMA_TICKS, frameYTicks: SIGMA_TICKS, yFmt: fmtSigma, showX: true, xAxisHeight: 49,
      sides: { top: true, bottom: true, left: true, right: true },
      datasets: [
        { ...greenSet(SIG_K_GREEN.map(([p, s]) => [p, s] as Pt), 1.8), order: 0 },
        { data: toXY(SIG_K_BLUE), pointRadius: 1.9, pointBackgroundColor: BLUE, pointBorderWidth: 0, order: 1 },
        zeroSet(),
      ],
      errors: SIG_K_GREEN,
    },
  ];

  const colX = [99, 320, 498, 685, 827];
  const colAlign: ('left' | 'center')[] = ['left', 'center', 'center', 'center', 'left'];
  const rowBase = [532, 573, 613, 655, 695];
  const cols = [TABLE_FILTER, TABLE_OPT, TABLE_SIGMA, TABLE_RANGE, TABLE_SAMPLE];

  return (
    <div style={{ position: 'absolute', left: 0, top: 0, width: 1032, height: 1159, background: '#f7f7fd', overflow: 'hidden' }}>
      {/* slide text behind the figure */}
      <div style={{ position: 'absolute', left: -3, top: 152, fontFamily: 'DejaVu Sans', fontWeight: 'bold', fontSize: 48, lineHeight: '48px', color: '#000' }}>,</div>
      <div style={{ position: 'absolute', left: -10, top: 766, fontFamily: 'DejaVu Sans', fontWeight: 'bold', fontSize: 75, lineHeight: '75px', color: '#000' }}>t</div>
      {/* white figure */}
      <div style={{ position: 'absolute', left: 15, top: 5, width: 1017, height: 1154, background: '#fff' }} />

      {specs.map((s, i) => <ChartCanvas key={i} spec={s} />)}

      <div style={{ position: 'absolute', left: 454, top: 50, fontFamily: 'DejaVu Sans', fontSize: 13, lineHeight: '16px' }}>N=70</div>
      <div style={{ position: 'absolute', left: 964, top: 50, fontFamily: 'DejaVu Sans', fontSize: 13, lineHeight: '16px' }}>N=89</div>
      <BigLetter x={103} baseline={359} text="Y" />
      <BigLetter x={645} baseline={359} text="J" />
      <BigLetter x={106} baseline={951} text="H" />
      <BigLetter x={646} baseline={951} text="K" />

      <Label x={25} y={217} size={11} color="#999">M<sub style={{ fontSize: 7 }}>Y</sub></Label>
      <Label x={535} y={217} size={11} color="#999">M<sub style={{ fontSize: 7 }}>J</sub></Label>
      <Label x={27} y={800} size={11} color="#999">M<sub style={{ fontSize: 7 }}>H</sub></Label>
      <Label x={537} y={800} size={11} color="#999">M<sub style={{ fontSize: 7 }}>K</sub></Label>
      <Label x={33} y={1050} size={13} color="#444">σ<sub style={{ fontSize: 8 }}>H</sub></Label>
      <Label x={543} y={1048} size={13} color="#444">σ<sub style={{ fontSize: 8 }}>K</sub></Label>

      {/* table overlay */}
      <div style={{ position: 'absolute', left: 15, top: 388, width: 1017, height: 372, background: '#fff' }} />
      <div style={{ position: 'absolute', left: 75, top: 421, width: 910, height: 2.5, background: '#000' }} />
      <div style={{ position: 'absolute', left: 75, top: 488, width: 910, height: 2.5, background: '#000' }} />
      <div style={{ position: 'absolute', left: 75, top: 720.5, width: 910, height: 2.5, background: '#000' }} />
      {TABLE_HEAD.map((h, c) => <TText key={'h' + c} x={colX[c]} baseline={465} align={colAlign[c]} text={h} />)}
      {cols.map((col, c) => col.map((t, r) => <TText key={c + '-' + r} x={colX[c]} baseline={rowBase[r]} align={colAlign[c]} text={t} />))}
    </div>
  );
}
